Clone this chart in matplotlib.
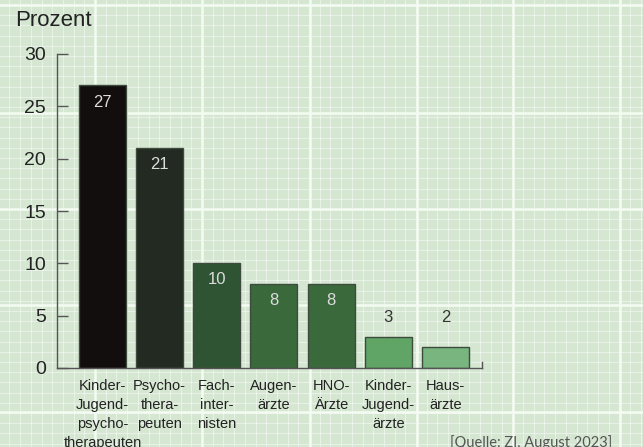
import matplotlib.pyplot as plt
import numpy as np

# Daten
kategorien = ["Kinder-\nJugend-\npsycho-\ntherapeuten", "Psycho-\nthera-\npeuten",
              "Fach-\ninter-\nnisten", "Augen-\närzte", "HNO-\nÄrzte",
              "Kinder-\nJugend-\närzte", "Haus-\närzte"]
werte = [27, 21, 10, 8, 8, 3, 2]
farben = ["#120e0d", "#222a22", "#2f5433", "#3a6a3b", "#3a6a3b", "#60a466", "#78b57f"]
yticks = [0, 5, 10, 15, 20, 25, 30]

plt.rcParams['font.family'] = ['Liberation Sans', 'DejaVu Sans']

W, H = 643, 447
fig = plt.figure(figsize=(W / 100, H / 100), dpi=100)
fig.patch.set_facecolor("#d5e7d1")

# Hintergrund: Millimeterpapier
bg = fig.add_axes([0, 0, 1, 1], zorder=0)
bg.set_xlim(0, W)
bg.set_ylim(H, 0)
bg.set_facecolor("#d5e7d1")
bg.axis("off")
for x in np.arange(-12, W, 10.7):
    bg.axvline(x, color="white", lw=0.8, alpha=0.45)
for y in np.arange(5, H, 10.2):
    bg.axhline(y, color="white", lw=0.8, alpha=0.45)
for x in [95, 202, 310, 417, 513, 620]:
    bg.axvline(x, color="#f4fbf2", lw=1.8)
for y in [5, 113, 209, 305, 412]:
    bg.axhline(y, color="#f4fbf2", lw=1.8)

# Diagramm
ax = fig.add_axes([57 / W, (H - 368) / H, 425 / W, 314 / H], zorder=1)
ax.patch.set_alpha(0)
x = np.arange(len(werte))
ax.bar(x, werte, width=0.82, color=farben, edgecolor="#3d4a3d", linewidth=1)
ax.set_xlim(-0.795, 6.64)
ax.set_ylim(0, 30)

for xi, v in zip(x, werte):
    if v >= 5:
        ax.annotate(str(v), (xi, v), xytext=(0, -12), textcoords="offset points",
                    ha="center", va="center", fontsize=12, color="#dcdcdc")
    else:
        ax.text(xi, 4.8, str(v), ha="center", va="center", fontsize=12, color="#333333")

ax.spines[["top", "right"]].set_visible(False)
for s in ["left", "bottom"]:
    ax.spines[s].set_color("#555555")
    ax.spines[s].set_linewidth(1)
ax.set_yticks(yticks)
ax.tick_params(axis="y", direction="in", length=8, width=1, color="#555555",
               labelsize=14, labelcolor="#222222", pad=8)
ax.set_xticks(x, kategorien)
ax.tick_params(axis="x", length=0, labelsize=10.5, labelcolor="#222222", pad=8)
for lbl in ax.get_xticklabels():
    lbl.set_linespacing(1.45)
ax.plot([6.64, 6.64], [0, 0.6], color="#555555", lw=1, clip_on=False)

fig.text(15 / W, 1 - 20 / H, "Prozent", fontsize=16, color="#222222", va="center", ha="left")
fig.text(612 / W, 1 - 443 / H, "[Quelle: ZI, August 2023]", fontsize=10.5, color="#555555",
         family=["Lato", "DejaVu Sans"], ha="right", va="center")

fig.savefig("out.png", dpi=100, facecolor=fig.get_facecolor())
